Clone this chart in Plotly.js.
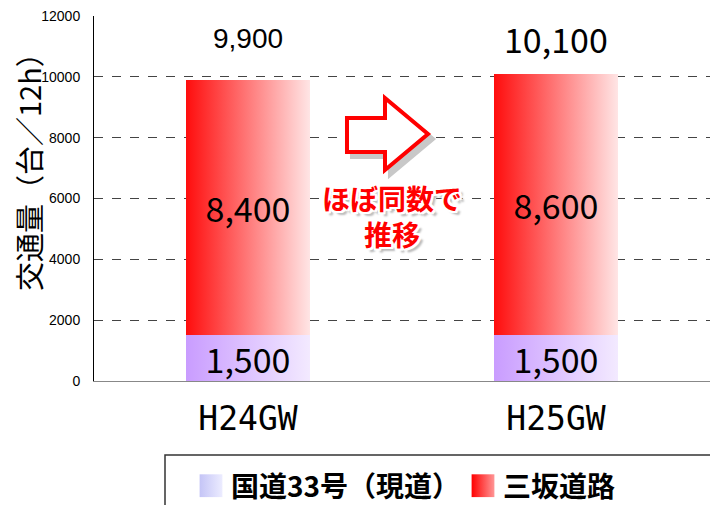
<!DOCTYPE html>
<html><head><meta charset="utf-8">
<script src="https://cdn.plot.ly/plotly-3.0.1.min.js"></script>
<style>body{margin:0;background:#fff}#chart{width:710px;height:505px}</style>
</head><body><div id="chart"></div>
<script>
const categories = ['H24GW', 'H25GW'];
const seriesNames = ['国道33号（現道）', '三坂道路'];
const genroad = [1500, 1500];
const misaka = [8400, 8600];
const totals = [9900, 10100];
const yTitle = '交通量（台／12h）';
const note = 'ほぼ同数で<br>推移';

const numFont = 'Noto Sans CJK JP, sans-serif';
const jpFont = 'Noto Sans CJK JP, sans-serif';
const fmt = v => v.toLocaleString('en-US');

// plot area in px: x 94..710, y 16..381
const L = 94, R = 710, T = 16, B = 381;
const px = x => (x - L) / (R - L);
const py = y => (B - y) / (B - T);
const P = (x, y) => px(x).toFixed(4) + ',' + py(y).toFixed(4);

const arrowPts = [[347,118],[385,118],[385,98],[428,134],[385,170],[385,152],[347,152]];
const arrowPath = (dx, dy) => 'M' + arrowPts.map(p => P(p[0] + dx, p[1] + dy)).join('L') + 'Z';

const traces = [
  {type: 'bar', name: seriesNames[0], x: categories, y: genroad, width: 0.405,
   marker: {color: '#d8bcff', line: {width: 0}},
   text: genroad.map(fmt), textposition: 'inside', insidetextanchor: 'middle',
   textfont: {family: numFont, size: 34, color: '#000'}, constraintext: 'none', hoverinfo: 'skip'},
  {type: 'bar', name: seriesNames[1], x: categories, y: misaka, width: 0.405,
   marker: {color: '#ff8080', line: {width: 0}},
   text: misaka.map(fmt), textposition: 'inside', insidetextanchor: 'middle',
   textfont: {family: numFont, size: 34, color: '#000'}, constraintext: 'none', hoverinfo: 'skip'}
];

const topStyle = [
  {shift: 24, font: {family: 'Liberation Sans, Arial, sans-serif', size: 28, color: '#000'}},
  {shift: 9, font: {family: numFont, size: 34, color: '#000'}}
];
const annotations = categories.map((c, i) => ({
  x: c, y: totals[i], xref: 'x', yref: 'y', text: fmt(totals[i]), showarrow: false,
  yanchor: 'bottom', yshift: topStyle[i].shift, font: topStyle[i].font
}));
annotations.push({
  xref: 'paper', yref: 'paper', x: px(392), y: py(216), text: note, showarrow: false,
  align: 'center', xanchor: 'center', yanchor: 'middle',
  font: {family: jpFont, size: 28, color: '#ff0000', weight: 700,
         shadow: '2px 0 0 #fff, -2px 0 0 #fff, 0 2px 0 #fff, 0 -2px 0 #fff, 2px 2px 0 #fff, -2px -2px 0 #fff, 2px -2px 0 #fff, -2px 2px 0 #fff, 4px 4px 2px #bbb'}
});
annotations.push({
  xref: 'paper', yref: 'paper', x: px(28), y: py(165), text: yTitle, showarrow: false,
  textangle: -90, xanchor: 'center', yanchor: 'middle',
  font: {family: jpFont, size: 29, color: '#000'}
});

const layout = {
  width: 710, height: 505,
  margin: {l: L, r: 710 - R, t: T, b: 505 - B, autoexpand: false},
  paper_bgcolor: '#fff', plot_bgcolor: '#fff',
  barmode: 'stack', showlegend: true,
  xaxis: {range: [-0.5, 1.5], showgrid: false, zeroline: false, showline: true,
          linecolor: '#888', linewidth: 1, ticks: '', ticklabelstandoff: 8,
          tickfont: {family: 'DejaVu Sans Mono, monospace', size: 33, color: '#000'}, fixedrange: true},
  yaxis: {range: [0, 12000], dtick: 2000, showgrid: true, gridcolor: '#444', griddash: 'dash',
          gridwidth: 1, zeroline: false, showline: true, linecolor: '#000', linewidth: 1,
          ticks: '', ticklabelstandoff: 10, tickformat: 'd',
          tickfont: {family: 'Liberation Sans, Arial, sans-serif', size: 14, color: '#000'}, fixedrange: true},
  legend: {orientation: 'h', x: px(191), y: py(461), xanchor: 'left', yanchor: 'top',
           traceorder: 'normal', bgcolor: 'rgba(0,0,0,0)', borderwidth: 0, entrywidth: 227,
           font: {family: jpFont, size: 28, color: '#000', weight: 700}},
  shapes: [
    {type: 'rect', xref: 'paper', yref: 'paper', x0: px(165), x1: px(720), y0: py(455), y1: py(520),
     line: {color: '#333', width: 1.5}, fillcolor: 'rgba(0,0,0,0)', layer: 'below'},
    {type: 'path', xref: 'paper', yref: 'paper', path: arrowPath(5, 5), fillcolor: '#c8c8c8', line: {color: '#c8c8c8', width: 4}},
    {type: 'path', xref: 'paper', yref: 'paper', path: arrowPath(0, 0), fillcolor: '#ffffff', line: {color: '#ff0000', width: 4}}
  ],
  annotations: annotations
};

Plotly.newPlot('chart', traces, layout, {displayModeBar: false, staticPlot: true}).then(gd => {
  const svg = gd.querySelector('.main-svg');
  let defs = svg.querySelector('defs');
  const NS = 'http://www.w3.org/2000/svg';
  function grad(id, c1, c2) {
    const g = document.createElementNS(NS, 'linearGradient');
    g.setAttribute('id', id); g.setAttribute('x1', '0'); g.setAttribute('x2', '1');
    g.setAttribute('y1', '0'); g.setAttribute('y2', '0');
    [[0, c1], [1, c2]].forEach(s => {
      const st = document.createElementNS(NS, 'stop');
      st.setAttribute('offset', s[0]); st.setAttribute('stop-color', s[1]);
      g.appendChild(st);
    });
    defs.appendChild(g);
  }
  grad('gbar0', '#c99cff', '#f3eaff');
  grad('gbar1', '#ff0c0c', '#ffe6e6');
  grad('gleg0', '#c4c4f6', '#ececff');
  grad('gleg1', '#ff0000', '#ff9696');
  gd.querySelectorAll('.barlayer .trace').forEach((tr, i) => {
    tr.querySelectorAll('.point path').forEach(p => { p.style.fill = 'url(#gbar' + i + ')'; });
  });
  gd.querySelectorAll('.legend .traces').forEach((tr, i) => {
    const p = tr.querySelector('.legendpoints path');
    if (p) {
      const t0 = p.getAttribute('transform') || '';
      p.style.fill = 'url(#gleg' + i + ')';
      p.setAttribute('transform', t0 + ' scale(1.9)');
    }
  });
});
</script></body></html>
